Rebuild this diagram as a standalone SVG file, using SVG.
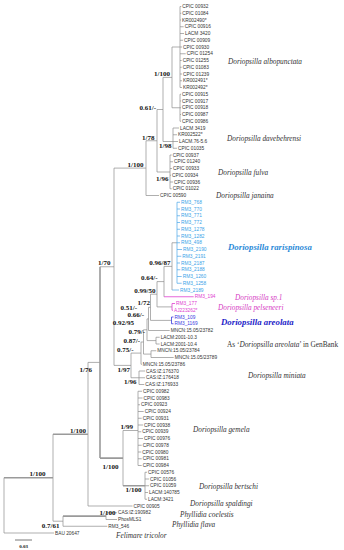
<svg xmlns="http://www.w3.org/2000/svg" width="344" height="550" viewBox="0 0 344 550">
<style>
.l{stroke:#8d8d8d;stroke-width:0.7;fill:none}
.lt{stroke:#9a9a9a;stroke-width:1.6;fill:none}
.lb{stroke:#4aa6e8;stroke-width:0.7;fill:none}
.lm{stroke:#e040d0;stroke-width:0.8;fill:none}
.ld{stroke:#3a3ae0;stroke-width:0.8;fill:none}
text{font-family:"Liberation Sans",Arial,sans-serif}
.t{font-size:4.8px;fill:#333}
.tb{font-size:4.8px;fill:#3aa3e8}
.tm{font-size:4.8px;fill:#e040d0}
.td{font-size:4.8px;fill:#3a3ae0}
.s{font-family:"Liberation Serif","Times New Roman",serif;font-weight:bold;font-size:7px;fill:#111;text-anchor:end}
.sp{font-family:"Liberation Serif","Times New Roman",serif;font-style:italic;font-size:7.3px;fill:#333}
.spb{font-family:"Liberation Serif","Times New Roman",serif;font-style:italic;font-weight:bold;font-size:8.8px}
</style>
<rect width="344" height="550" fill="#fff"/>
<g id="connectors">
<path class="l" d="M180 6.5V87.5M180 6.5H181.3M180 13.25H181.3M180 20H181M180 26.75H183.7M180 33.5H184M180 40.25H183M180 47H182M180 53.75H185.7M180 60.5H181.7M180 67.25H181.7M180 74H182M180 80.75H182M180 87.5H182M180 94.25V121.25M180 94.25H181M180 101H181M180 107.75H181M180 114.5H181M180 121.25H181M172 47V107.75M172 47H180M172 107.75H180M173 128V148.25M173 128H179M173 134.75H177M173 141.5H178M173 148.25H177M163 77.4V141.5M163 77.4H172M163 141.5H173M157 109.5V172M157 109.5H163M157 172H170M170 155V188.75M170 155H171.7M170 161.75H173M170 168.5H172M170 175.25H171M170 182H173M170 188.75H171.7M146 140.75V195.5M146 140.75H157M146 195.5H159M114 168.1V365.4M114 168.1H146M114 365.4H131M100 266.75H114M88 362.4H100M88 362.4V506M88 506H132.5M53 434.2V521.2M53 521.2H63M4 477.7V533M4 533H54M63 516.1V526.25M63 526.25H107.3M106 512.75V519.5M106 512.75H117M106 519.5H117M123 430.5V485.75M123 430.5H138"/>
<path class="l" d="M138 391.25V465.5M138 391.25H142M138 398H142.5M138 404.75H140M138 411.5H143.7M138 418.25H141.7M138 425H143M138 431.75H141.3M138 438.5H143M138 445.25H141.7M138 452H141.3M138 458.75H141.7M138 465.5H141.7M145 472.25V499.25M145 472.25H147M145 479H149M145 485.75H149M145 492.5H148M145 499.25H147"/>
<path class="l" d="M131 353.1V377.75M131 377.75H139M139 371V384.5M139 371H145M139 377.75H145M139 384.5H144.3M131 353.1H141M141 342V364.25M141 364.25H141.9M141 342H143.5M143.5 329.8V354.1M143.5 354.1H151M151 350.75V357.5M151 350.75H156.3M151 357.5H173.7M143.5 329.8H147M147 318.9V340.6M147 340.6H156M156 337.25V344M156 337.25H159.7M156 344H159.7M147 318.9H148.5M148.5 307.3V330.5M148.5 330.5H169.7M148.5 307.3H150.5M150.5 294.2V320.4M150.5 320.4H171.5M150.5 294.2H157M157 281.6V306.9M157 306.9H172M157 281.6H164M164 266.4V296.75M164 266.4H172M172 242.75V290M172 242.75H177"/>
<path class="lt" d="M100 266.75V458.1M100 458.1H123M53 434.2H88M4 477.7H53M63 516.1H106M123 485.75H145"/>
<path class="lb" d="M177 202.25V283.25M177 202.25H180M177 209H180M177 215.75H180M177 222.5H180M177 229.25H180M177 236H180M177 242.75H180M177 249.5H182M177 256.25H181.3M177 263H180M177 269.75H180.3M177 276.5H181.7M177 283.25H181.7M172 290H179"/>
<path class="lm" d="M164 296.75H193.7M172 303.5V310.25M172 303.5H175M172 310.25H173"/>
<path class="ld" d="M171.5 317V323.75M171.5 317H173.5M171.5 323.75H173.5"/>
<path d="M15 540H32" stroke="#555" stroke-width="0.8"/>
</g>
<g id="tips">
<g id="n01"><text class="t" x="182.3" y="8.2">CPIC 00932</text></g>
<g id="n02"><text class="t" x="182.3" y="14.95">CPIC 01084</text></g>
<g id="n03"><text class="t" x="182" y="21.7">KR002490*</text></g>
<g id="n04"><text class="t" x="184.7" y="28.45">CPIC 00916</text></g>
<g id="n05"><text class="t" x="185" y="35.2">LACM 3420</text></g>
<g id="n06"><text class="t" x="184" y="41.95">CPIC 00909</text></g>
<g id="n07"><text class="t" x="183" y="48.7">CPIC 00930</text></g>
<g id="n08"><text class="t" x="186.7" y="55.45">CPIC 01254</text></g>
<g id="n09"><text class="t" x="182.7" y="62.2">CPIC 01255</text></g>
<g id="n10"><text class="t" x="182.7" y="68.95">CPIC 01083</text></g>
<g id="n11"><text class="t" x="183" y="75.7">CPIC 01239</text></g>
<g id="n12"><text class="t" x="183" y="82.45">KR002491*</text></g>
<g id="n13"><text class="t" x="183" y="89.2">KR002492*</text></g>
<g id="n14"><text class="t" x="182" y="95.95">CPIC 00915</text></g>
<g id="n15"><text class="t" x="182" y="102.7">CPIC 00917</text></g>
<g id="n16"><text class="t" x="182" y="109.45">CPIC 00918</text></g>
<g id="n17"><text class="t" x="182" y="116.2">CPIC 00987</text></g>
<g id="n18"><text class="t" x="182" y="122.95">CPIC 00986</text></g>
<g id="n19"><text class="t" x="180" y="129.7">LACM 3419</text></g>
<g id="n20"><text class="t" x="178" y="136.45">KR002522*</text></g>
<g id="n21"><text class="t" x="179" y="143.2">LACM.76-5.6</text></g>
<g id="n22"><text class="t" x="178" y="149.95">CPIC 01035</text></g>
<g id="n23"><text class="t" x="172.7" y="156.7">CPIC 00937</text></g>
<g id="n24"><text class="t" x="174" y="163.45">CPIC 01240</text></g>
<g id="n25"><text class="t" x="173" y="170.2">CPIC 00933</text></g>
<g id="n26"><text class="t" x="172" y="176.95">CPIC 00934</text></g>
<g id="n27"><text class="t" x="174" y="183.7">CPIC 00936</text></g>
<g id="n28"><text class="t" x="172.7" y="190.45">CPIC 01022</text></g>
<g id="n29"><text class="t" x="160" y="197.2">CPIC 00590</text></g>
<g id="n30"><text class="tb" x="181" y="203.95">RM3_768</text></g>
<g id="n31"><text class="tb" x="181" y="210.7">RM3_770</text></g>
<g id="n32"><text class="tb" x="181" y="217.45">RM3_771</text></g>
<g id="n33"><text class="tb" x="181" y="224.2">RM3_772</text></g>
<g id="n34"><text class="tb" x="181" y="230.95">RM3_1278</text></g>
<g id="n35"><text class="tb" x="181" y="237.7">RM3_1282</text></g>
<g id="n36"><text class="tb" x="181" y="244.45">RM3_498</text></g>
<g id="n37"><text class="tb" x="183" y="251.2">RM3_2190</text></g>
<g id="n38"><text class="tb" x="182.3" y="257.95">RM3_2191</text></g>
<g id="n39"><text class="tb" x="181" y="264.7">RM3_2187</text></g>
<g id="n40"><text class="tb" x="181.3" y="271.45">RM3_2188</text></g>
<g id="n41"><text class="tb" x="182.7" y="278.2">RM3_1260</text></g>
<g id="n42"><text class="tb" x="182.7" y="284.95">RM3_1258</text></g>
<g id="n43"><text class="tb" x="180" y="291.7">RM3_2189</text></g>
<g id="n44"><text class="tm" x="194.7" y="298.45">RM3_194</text></g>
<g id="n45"><text class="tm" x="176" y="305.2">RM3_177</text></g>
<g id="n46"><text class="tm" x="174" y="311.95">AJ223262*</text></g>
<g id="n47"><text class="td" x="174.5" y="318.7">RM3_109</text></g>
<g id="n48"><text class="td" x="174.5" y="325.45">RM3_1169</text></g>
<g id="n49"><text class="t" x="170.7" y="332.2">MNCN:15.05/23782</text></g>
<g id="n50"><text class="t" x="160.7" y="338.95">LACM:2001-10.3</text></g>
<g id="n51"><text class="t" x="160.7" y="345.7">LACM:2001-10.4</text></g>
<g id="n52"><text class="t" x="157.3" y="352.45">MNCN:15.05/23784</text></g>
<g id="n53"><text class="t" x="174.7" y="359.2">MNCN:15.05/23789</text></g>
<g id="n54"><text class="t" x="142.7" y="365.95">MNCN:15.05/23786</text></g>
<g id="n55"><text class="t" x="146" y="372.7">CAS:IZ:176370</text></g>
<g id="n56"><text class="t" x="146" y="379.45">CAS:IZ:176418</text></g>
<g id="n57"><text class="t" x="145.3" y="386.2">CAS:IZ:176933</text></g>
<g id="n58"><text class="t" x="143" y="392.95">CPIC 00982</text></g>
<g id="n59"><text class="t" x="143.5" y="399.7">CPIC 00983</text></g>
<g id="n60"><text class="t" x="141" y="406.45">CPIC 00923</text></g>
<g id="n61"><text class="t" x="144.7" y="413.2">CPIC 00924</text></g>
<g id="n62"><text class="t" x="142.7" y="419.95">CPIC 00931</text></g>
<g id="n63"><text class="t" x="144" y="426.7">CPIC 00938</text></g>
<g id="n64"><text class="t" x="142.3" y="433.45">CPIC 00939</text></g>
<g id="n65"><text class="t" x="144" y="440.2">CPIC 00976</text></g>
<g id="n66"><text class="t" x="142.7" y="446.95">CPIC 00978</text></g>
<g id="n67"><text class="t" x="142.3" y="453.7">CPIC 00980</text></g>
<g id="n68"><text class="t" x="142.7" y="460.45">CPIC 00981</text></g>
<g id="n69"><text class="t" x="142.7" y="467.2">CPIC 00984</text></g>
<g id="n70"><text class="t" x="148" y="473.95">CPIC 00576</text></g>
<g id="n71"><text class="t" x="150" y="480.7">CPIC 01056</text></g>
<g id="n72"><text class="t" x="150" y="487.45">CPIC 01059</text></g>
<g id="n73"><text class="t" x="149" y="494.2">LACM:140785</text></g>
<g id="n74"><text class="t" x="148" y="500.95">LACM:3421</text></g>
<g id="n75"><text class="t" x="133.5" y="507.7">CPIC 00905</text></g>
<g id="n76"><text class="t" x="118" y="514.45">CAS:IZ:190982</text></g>
<g id="n77"><text class="t" x="118" y="521.2">PhosMLS1</text></g>
<g id="n78"><text class="t" x="108.3" y="527.95">RM3_546</text></g>
<g id="n79"><text class="t" x="55" y="534.7">BAU 20647</text></g>
</g>
<g id="support">
<text class="s" x="170" y="76">1/100</text>
<text class="s" x="156" y="110">0.61/-</text>
<text class="s" x="154.5" y="139.8">1/78</text>
<text class="s" x="171.5" y="147.5">1/98</text>
<text class="s" x="143.5" y="166.8">1/100</text>
<text class="s" x="168.5" y="180.5">1/96</text>
<text class="s" x="110.5" y="265.3">1/70</text>
<text class="s" x="170.5" y="265">0.96/87</text>
<text class="s" x="157.5" y="280">0.64/-</text>
<text class="s" x="155.5" y="293">0.99/50</text>
<text class="s" x="150" y="304.5">1/72</text>
<text class="s" x="137" y="310">0.51/-</text>
<text class="s" x="144" y="317">0.66/-</text>
<text class="s" x="134" y="324.5">0.92/95</text>
<text class="s" x="145" y="333.8">0.79/-</text>
<text class="s" x="140" y="342.6">0.87/-</text>
<text class="s" x="133.5" y="351.8">0.75/-</text>
<text class="s" x="130" y="371.5">1/97</text>
<text class="s" x="92" y="372">1/76</text>
<text class="s" x="136.5" y="384">1/96</text>
<text class="s" x="133" y="428.5">1/99</text>
<text class="s" x="86" y="432.7">1/100</text>
<text class="s" x="118.5" y="469">1/100</text>
<text class="s" x="45.5" y="476">1/100</text>
<text class="s" x="141.5" y="491.5">1/100</text>
<text class="s" x="115.5" y="514.6">1/100</text>
<text class="s" x="59.5" y="528">0.7/61</text>
<text class="s" x="23.5" y="547.5" style="font-size:5px;text-anchor:middle">0.03</text>
</g>
<g id="species">
<text class="sp" x="228" y="64">Doriopsilla albopunctata</text>
<text class="sp" x="227" y="140.5">Doriopsilla davebehrensi</text>
<text class="sp" x="218" y="174.5">Doriopsilla fulva</text>
<text class="sp" x="216" y="198">Doriopsilla janaina</text>
<text class="spb" x="228" y="249.5" fill="#2a8ad8">Doriopsilla rarispinosa</text>
<text class="sp" x="235" y="299.5" style="fill:#d63cc4">Doriopsilla sp.1</text>
<text class="sp" x="218" y="309.5" style="fill:#d63cc4">Doriopsilla pelseneeri</text>
<text class="spb" x="221" y="324.5" fill="#1c1cc8">Doriopsilla areolata</text>
<text class="sp" x="227" y="347" style="font-style:normal">As ‘<tspan style="font-style:italic">Doriopsilla areolata</tspan>’ in GenBank</text>
<text class="sp" x="248" y="378">Doriopsilla miniata</text>
<text class="sp" x="193" y="432">Doriopsilla gemela</text>
<text class="sp" x="199" y="488.5">Doriopsilla bertschi</text>
<text class="sp" x="190" y="506">Doriopsilla spaldingi</text>
<text class="sp" x="180" y="516.5">Phyllidia coelestis</text>
<text class="sp" x="172" y="527">Phyllidia flava</text>
<text class="sp" x="116" y="538">Felimare tricolor</text>
</g>
</svg>
